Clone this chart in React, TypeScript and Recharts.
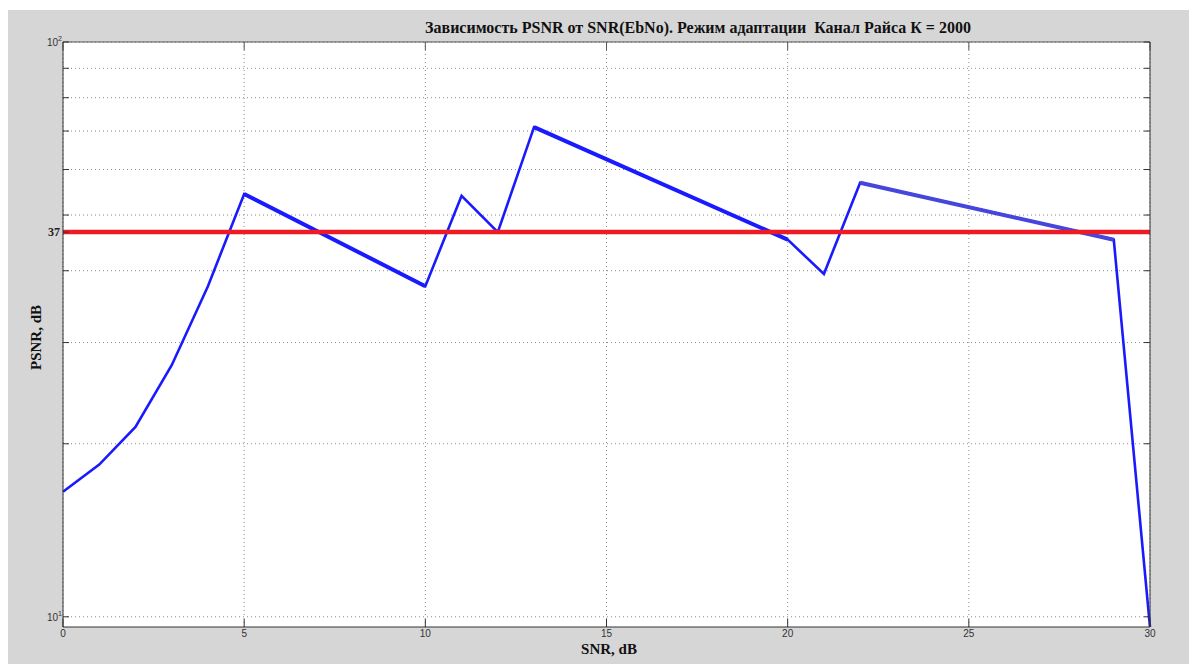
import React from "react";
import {
  CartesianGrid,
  Line,
  LineChart,
  ReferenceLine,
  XAxis,
  YAxis,
} from "recharts";

// SNR (dB) at each vertex of the PSNR curve
const snr = [0, 1, 2, 3, 4, 5, 10, 11, 12, 13, 20, 21, 22, 29, 30];
// PSNR
const psnr = [16.5, 18.4, 21.4, 27.4, 37.6, 54.4, 37.6, 54.0, 46.7, 71.1, 45.3, 39.5, 56.9, 45.3, 9.6];
// stretches drawn with a heavier stroke in the original
const heavyFrom = [5, 13, 22];
const heavyTo = [10, 20, 29];
// red threshold line and the label it carries
const thresholdValue = 46.7;
const thresholdLabel = "37";

const xTicks = [0, 5, 10, 15, 20, 25, 30];
const yTicks = [10, 20, 30, 40, thresholdValue, 50, 60, 70, 80, 90, 100];
const gridTicks = [10, 20, 30, 40, 50, 60, 70, 80, 90, 100];

const data = snr.map((x, i) => ({ snr: x, psnr: psnr[i] }));
const heavy = heavyFrom.map((from, i) =>
  data.filter((d) => d.snr >= from && d.snr <= heavyTo[i])
);

const tickFont = "'Liberation Sans', Arial, sans-serif";
const serif = "'Liberation Serif', 'Times New Roman', serif";

const XTick = (props: any) => {
  const { x, y, payload } = props;
  return (
    <text x={x} y={y} dy={8} textAnchor="middle" fontSize={10} fill="#333" fontFamily={tickFont}>
      {payload.value}
    </text>
  );
};

const YTick = (props: any) => {
  const { x, y, payload } = props;
  const v = payload.value;
  if (v === thresholdValue) {
    return (
      <text x={x} y={y} dy={4} textAnchor="end" fontSize={12} fontWeight="bold" fill="#222" fontFamily={serif}>
        {thresholdLabel}
      </text>
    );
  }
  if (v === 10 || v === 100) {
    return (
      <text x={x + 2} y={y} dy={4} textAnchor="end" fontSize={10} fill="#333" fontFamily={tickFont}>
        10
        <tspan fontSize={7} dy={-5}>{v === 10 ? "1" : "2"}</tspan>
      </text>
    );
  }
  return <g />;
};

const Empty = () => <g />;

export default function App() {
  return (
    <div
      style={{
        position: "absolute",
        left: 8,
        top: 10,
        width: 1181,
        height: 654,
        background: "#d6d6d6",
      }}
    >
      <LineChart width={1181} height={654} data={data} margin={{ top: 0, right: 0, bottom: 0, left: 0 }}>
        <CartesianGrid
          fill="#ffffff"
          stroke="#8a8a8a"
          strokeDasharray="1 3"
          horizontalValues={gridTicks}
        />
        <XAxis
          dataKey="snr"
          type="number"
          domain={[0, 30]}
          ticks={xTicks}
          height={37}
          stroke="#333"
          tickSize={-8}
          tickMargin={10}
          tick={<XTick />}
          interval={0}
        />
        <XAxis
          xAxisId="top"
          orientation="top"
          dataKey="snr"
          type="number"
          domain={[0, 30]}
          ticks={xTicks}
          height={32}
          stroke="#555"
          tickSize={-8}
          tick={<Empty />}
          interval={0}
        />
        <YAxis
          type="number"
          scale="log"
          domain={[9.6, 100]}
          allowDataOverflow
          ticks={yTicks}
          width={55}
          stroke="#333"
          tickSize={-6}
          tickMargin={9}
          tick={<YTick />}
          interval={0}
        />
        <YAxis
          yAxisId="right"
          orientation="right"
          type="number"
          scale="log"
          domain={[9.6, 100]}
          allowDataOverflow
          ticks={gridTicks}
          width={39}
          stroke="#333"
          tickSize={-6}
          tick={<Empty />}
          interval={0}
        />
        <Line
          dataKey="psnr"
          stroke="#1a1aff"
          strokeWidth={2.6}
          dot={false}
          isAnimationActive={false}
          strokeLinejoin="miter"
        />
        {heavy.map((seg, i) => (
          <Line
            key={i}
            data={seg}
            dataKey="psnr"
            stroke={i === 2 ? "#4646dc" : "#1a1aff"}
            strokeWidth={4}
            dot={false}
            isAnimationActive={false}
          />
        ))}
        <ReferenceLine y={thresholdValue} stroke="#ed1c24" strokeWidth={4.5} />
      </LineChart>
      <div
        style={{
          position: "absolute",
          left: 0,
          width: 1380,
          top: 9,
          textAlign: "center",
          fontFamily: serif,
          fontWeight: "bold",
          fontSize: 16,
          color: "#111",
          whiteSpace: "pre",
        }}
      >
        Зависимость PSNR от SNR(EbNo). Режим адаптации  Канал Райса К = 2000
      </div>
      <div
        style={{
          position: "absolute",
          left: 451,
          width: 300,
          top: 631,
          textAlign: "center",
          fontFamily: serif,
          fontWeight: "bold",
          fontSize: 15,
          color: "#111",
        }}
      >
        SNR, dB
      </div>
      <div
        style={{
          position: "absolute",
          left: 28 - 150,
          top: 329 - 10,
          width: 300,
          textAlign: "center",
          transform: "rotate(-90deg)",
          fontFamily: serif,
          fontWeight: "bold",
          fontSize: 15,
          color: "#111",
        }}
      >
        PSNR, dB
      </div>
    </div>
  );
}
